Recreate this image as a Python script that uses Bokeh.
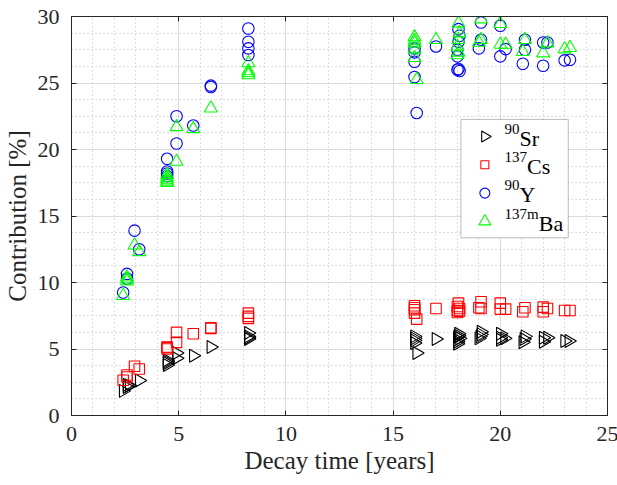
import math
from bokeh.plotting import figure
from bokeh.models import (SingleIntervalTicker, LinearAxis, Range1d, BoxAnnotation,
                          CustomJSTickFormatter)
from bokeh.core.properties import value
from bokeh.embed import file_html
from bokeh.resources import INLINE

# ---- data (decay time in years, contribution in %) ----
sr_x = [2.41, 2.59, 2.59, 2.69, 3.16, 4.46, 4.46, 4.46, 4.46, 4.9, 4.9, 5.68, 6.5,
        8.25, 8.25, 8.25, 8.25, 16.0, 16.0, 16.0, 16.0, 16.1, 17.0,
        18.0, 18.0, 18.0, 18.0, 18.05, 18.05, 18.1, 19.0, 19.05, 19.1, 19.1,
        20.0, 20.0, 20.0, 20.2, 21.05, 21.1, 21.15, 22.0, 22.0, 22.2, 23.0, 23.2]
sr_y = [1.85, 2.15, 2.3, 2.25, 2.63, 3.8, 3.95, 4.05, 4.15, 4.3, 4.7, 4.5, 5.15,
        5.75, 5.85, 5.95, 6.2, 5.45, 5.65, 5.8, 5.95, 4.7, 5.75,
        5.4, 5.55, 5.7, 5.9, 6.0, 6.15, 5.8, 5.8, 5.95, 6.1, 6.3,
        5.7, 5.85, 6.15, 5.8, 5.5, 5.75, 5.95, 5.55, 5.85, 5.85, 5.6, 5.6]

cs_x = [2.41, 2.59, 2.59, 2.94, 3.16, 4.46, 4.46, 4.46, 4.9, 4.9, 5.68, 6.5, 6.5,
        8.25, 8.25, 8.25, 16.0, 16.0, 16.0, 16.0, 16.1, 17.0,
        18.0, 18.0, 18.0, 18.05, 18.1, 18.1, 19.0, 19.1, 19.1,
        20.0, 20.0, 20.25, 21.05, 21.15, 22.0, 22.0, 22.2, 23.0, 23.25]
cs_y = [2.65, 2.9, 3.05, 3.7, 3.5, 5.0, 5.1, 5.15, 5.5, 6.25, 6.15, 6.6, 6.55,
        7.3, 7.45, 7.7, 7.7, 7.95, 8.1, 8.25, 7.25, 8.05,
        7.75, 7.9, 8.2, 8.45, 8.05, 7.85, 8.1, 8.05, 8.55,
        8.0, 8.45, 8.0, 7.8, 8.1, 7.8, 8.15, 8.05, 7.9, 7.9]

y_x = [2.41, 2.59, 2.59, 2.94, 3.16, 4.46, 4.46, 4.46, 4.46, 4.9, 4.9, 5.68, 6.5, 6.5,
       8.25, 8.25, 8.25, 8.25, 16.0, 16.0, 16.0, 16.0, 16.1, 17.0,
       18.0, 18.1, 18.05, 18.0, 18.0, 18.05, 18.1, 18.05, 19.0, 19.1, 19.1,
       20.0, 20.0, 20.25, 21.05, 21.15, 21.15, 22.0, 22.0, 22.2, 23.0, 23.25]
y_y = [9.25, 10.3, 10.65, 13.9, 12.5, 18.0, 18.2, 18.35, 19.3, 20.45, 22.5, 21.8, 24.7, 24.8,
       27.1, 27.6, 28.1, 29.1, 25.45, 26.6, 27.3, 27.6, 22.75, 27.75,
       26.0, 25.9, 26.05, 27.0, 27.5, 28.1, 28.55, 29.05, 27.6, 28.25, 29.55,
       27.0, 29.3, 27.55, 26.45, 27.5, 28.25, 26.3, 28.05, 28.05, 26.7, 26.75]

ba_x = [2.41, 2.59, 2.59, 2.59, 2.94, 3.16, 4.46, 4.46, 4.46, 4.46, 4.46, 4.9, 4.9, 5.68, 6.5,
        8.25, 8.25, 8.25, 8.25, 16.0, 16.0, 16.0, 16.0, 16.0, 16.1, 17.0,
        18.0, 18.05, 18.0, 18.05, 18.1, 18.05, 19.0, 19.1, 19.1,
        20.0, 20.0, 20.25, 21.05, 21.15, 22.0, 22.2, 23.0, 23.25]
ba_y = [9.0, 10.1, 10.25, 10.4, 12.8, 12.3, 17.5, 17.6, 17.75, 17.9, 18.1, 19.1, 21.7, 21.55, 23.1,
        25.6, 25.75, 25.9, 26.5, 26.9, 27.55, 28.0, 28.2, 28.45, 25.25, 28.25,
        27.1, 27.3, 27.75, 28.25, 28.75, 29.5, 28.05, 28.25, 29.8,
        27.9, 29.45, 27.9, 27.35, 28.25, 27.25, 28.0, 27.55, 27.65]

legend_sup = ["90", "137", "90", "137m"]
legend_main = ["Sr", "Cs", "Y", "Ba"]
x_ticks_step = 5
y_ticks_step = 5

FONT = "Liberation Serif"
AX = "#262626"

p = figure(frame_width=536, frame_height=399, output_backend="svg", toolbar_location=None,
           x_range=Range1d(0, 25), y_range=Range1d(0, 30),
           min_border_left=69, min_border_right=12, min_border_top=16, min_border_bottom=70)

xt = SingleIntervalTicker(interval=x_ticks_step, num_minor_ticks=5)
yt = SingleIntervalTicker(interval=y_ticks_step, num_minor_ticks=4)

p.xaxis.ticker = xt
p.yaxis.ticker = yt
p.xgrid.ticker = xt
p.ygrid.ticker = yt
for g in (p.xgrid[0], p.ygrid[0]):
    g.grid_line_color = "#dcdcdc"
    g.grid_line_width = 1
    g.minor_grid_line_color = "#bdbdbd"
    g.minor_grid_line_dash = "1 3"
    g.minor_grid_line_width = 1

for ax in (p.xaxis[0], p.yaxis[0]):
    ax.axis_line_color = AX
    ax.major_tick_line_color = AX
    ax.major_tick_in = 5
    ax.major_tick_out = 0
    ax.minor_tick_line_color = None
    ax.major_label_text_font = FONT
    ax.major_label_text_font_size = "22px"
    ax.major_label_text_color = AX
    ax.axis_label_text_font = FONT
    ax.axis_label_text_font_size = "25px"
    ax.axis_label_text_font_style = "normal"
    ax.axis_label_text_color = AX

p.xaxis.axis_label = "Decay time [years]"
p.yaxis.axis_label = "Contribution [%]"
p.xaxis.major_label_standoff = 7
p.yaxis.major_label_standoff = 8
p.xaxis.axis_label_standoff = 3
p.yaxis.axis_label_standoff = 4

blank = CustomJSTickFormatter(code="return ''")
for loc, tk in (("right", yt), ("above", xt)):
    a = LinearAxis(ticker=tk, formatter=blank)
    a.axis_line_color = AX
    a.major_tick_line_color = AX
    a.major_tick_in = 5
    a.major_tick_out = 0
    a.minor_tick_line_color = None
    a.major_label_standoff = 0
    p.add_layout(a, loc)

p.outline_line_color = AX

p.scatter(sr_x, sr_y, marker="triangle", angle=-math.pi / 2, size=13,
          fill_color=None, line_color="black", line_width=1.1)
p.scatter(cs_x, cs_y, marker="square", size=10.5,
          fill_color=None, line_color="#ff0000", line_width=1.1)
p.scatter(y_x, y_y, marker="circle", size=11.5,
          fill_color=None, line_color="#0000ff", line_width=1.1)
p.scatter(ba_x, ba_y, marker="triangle", size=13,
          fill_color=None, line_color="#00ff00", line_width=1.1)

# ---- legend (box with glyphs and superscripted labels), placed in data units ----
LG_LEFT, LG_RIGHT, LG_TOP, LG_BOTTOM = 18.16, 23.17, 22.26, 13.36
ROW0, ROW_STEP = 20.98, 2.13          # y of first row centre, spacing between rows
GLYPH_X, TEXT_X = 19.28, 20.2
p.add_layout(BoxAnnotation(left=LG_LEFT, right=LG_RIGHT, top=LG_TOP, bottom=LG_BOTTOM,
                           fill_color="white", fill_alpha=1.0,
                           line_color=AX, line_width=1, level="annotation"))
rows = [ROW0 - i * ROW_STEP for i in range(4)]
specs = [("triangle", -math.pi / 2, 11, "black"), ("square", 0, 8, "#ff0000"),
         ("circle", 0, 10, "#0000ff"), ("triangle", 0, 12, "#00ff00")]
for (mk, ang, sz, col), yy in zip(specs, rows):
    p.scatter([GLYPH_X], [yy], marker=mk, angle=ang, size=sz, fill_color=None,
              line_color=col, line_width=1.1, level="overlay")
sup_w = [len(s.replace("m", "")) * 7.5 + (11.7 if "m" in s else 0) for s in legend_sup]
base = [yy - 0.12 for yy in rows]
p.text(x=[TEXT_X] * 4, y=[b + 0.7 for b in base], text=legend_sup,
       text_font=value(FONT), text_font_size="15px", text_color="black",
       text_baseline="alphabetic", text_align="left", level="overlay")
p.text(x=[TEXT_X] * 4, y=base, text=legend_main, x_offset=sup_w,
       text_font=value(FONT), text_font_size="22px", text_color="black",
       text_baseline="alphabetic", text_align="left", level="overlay")

open("out.html", "w").write(file_html(p, INLINE))
